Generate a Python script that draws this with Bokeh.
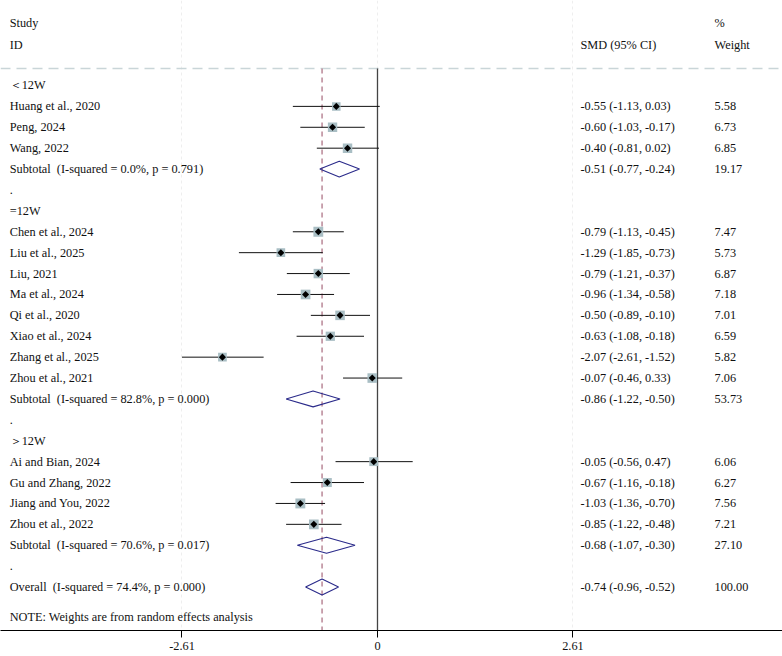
import math
from bokeh.plotting import figure
from bokeh.models import Range1d, FixedTicker, ColumnDataSource
from bokeh.core.properties import value
from bokeh.embed import file_html
from bokeh.resources import INLINE

# ---------------- data ----------------
study_labels = ["Huang et al., 2020", "Peng, 2024", "Wang, 2022",
                "Chen et al., 2024", "Liu et al., 2025", "Liu, 2021", "Ma et al., 2024",
                "Qi et al., 2020", "Xiao et al., 2024", "Zhang et al., 2025", "Zhou et al., 2021",
                "Ai and Bian, 2024", "Gu and Zhang, 2022", "Jiang and You, 2022", "Zhou et al., 2022"]
study_group = [0, 0, 0, 1, 1, 1, 1, 1, 1, 1, 1, 2, 2, 2, 2]
study_smd = [-0.55, -0.60, -0.40, -0.79, -1.29, -0.79, -0.96, -0.50, -0.63, -2.07, -0.07, -0.05, -0.67, -1.03, -0.85]
study_lo = [-1.13, -1.03, -0.81, -1.13, -1.85, -1.21, -1.34, -0.89, -1.08, -2.61, -0.46, -0.56, -1.16, -1.36, -1.22]
study_hi = [0.03, -0.17, 0.02, -0.45, -0.73, -0.37, -0.58, -0.10, -0.18, -1.52, 0.33, 0.47, -0.18, -0.70, -0.48]
study_w = [5.58, 6.73, 6.85, 7.47, 5.73, 6.87, 7.18, 7.01, 6.59, 5.82, 7.06, 6.06, 6.27, 7.56, 7.21]

group_labels = ["＜12W", "=12W", "＞12W"]
sub_i2 = ["0.0%", "82.8%", "70.6%"]
sub_p = ["0.791", "0.000", "0.017"]
sub_smd = [-0.51, -0.86, -0.68]
sub_lo = [-0.77, -1.22, -1.07]
sub_hi = [-0.24, -0.50, -0.30]
sub_w = [19.17, 53.73, 27.10]

overall_smd = -0.74
overall_lo = -0.96
overall_hi = -0.52
overall_w = 100.00
overall_i2 = "74.4%"
overall_p = "0.000"

axis_ticks = [-2.61, 0, 2.61]
tick_labels = ["-2.61", "0", "2.61"]

# ---------------- layout ----------------
X_LEFT = -4.91
X_SMD = 2.71
X_W = 4.50
Y_STUDY = -2.97
Y_ID = -1.96
Y_SEP = -0.81
Y_BOTTOM = 26.08

FONT = value("Liberation Serif")
FS = "12.3px"
TXT = "#111111"

p = figure(width=782, height=656,
           x_range=Range1d(-5.033, 5.407), y_range=Range1d(Y_BOTTOM, -4.067),
           output_backend="svg", toolbar_location=None,
           min_border_left=0, min_border_right=0, min_border_top=0, min_border_bottom=26,
           y_axis_location=None)
p.outline_line_color = None
p.background_fill_color = "white"
p.border_fill_color = "white"
p.ygrid.grid_line_color = None
p.xgrid.ticker = FixedTicker(ticks=axis_ticks)
p.xgrid.grid_line_color = "#eeeeee"
p.xgrid.grid_line_dash = "3 3"

ax = p.xaxis[0]
ax.ticker = FixedTicker(ticks=axis_ticks)
ax.major_label_overrides = {t: l for t, l in zip(axis_ticks, tick_labels)}
ax.major_tick_out = 7
ax.major_tick_in = 0
ax.minor_tick_out = 0
ax.minor_tick_in = 0
ax.axis_line_color = "black"
ax.major_tick_line_color = "black"
ax.major_label_text_font = "Liberation Serif"
ax.major_label_text_font_size = FS
ax.major_label_text_color = TXT
ax.major_label_standoff = 4

# row assembly
rows_y, rows_lab, rows_ci = [], [], []
st_y = [0.0] * len(study_labels)
sub_y = []
k = 0
for g, glab in enumerate(group_labels):
    rows_y.append(k); rows_lab.append(glab); k += 1
    for i in range(len(study_labels)):
        if study_group[i] == g:
            st_y[i] = k
            rows_y.append(k); rows_lab.append(study_labels[i])
            rows_ci.append((k, f"{study_smd[i]:.2f} ({study_lo[i]:.2f}, {study_hi[i]:.2f})", f"{study_w[i]:.2f}"))
            k += 1
    sub_y.append(k)
    rows_y.append(k); rows_lab.append(f"Subtotal\u00a0 (I-squared = {sub_i2[g]}, p = {sub_p[g]})")
    rows_ci.append((k, f"{sub_smd[g]:.2f} ({sub_lo[g]:.2f}, {sub_hi[g]:.2f})", f"{sub_w[g]:.2f}"))
    k += 1
    rows_y.append(k); rows_lab.append("."); k += 1
ov_y = k
rows_y.append(k); rows_lab.append(f"Overall\u00a0 (I-squared = {overall_i2}, p = {overall_p})")
rows_ci.append((k, f"{overall_smd:.2f} ({overall_lo:.2f}, {overall_hi:.2f})", f"{overall_w:.2f}"))
note_y = k + 1.45

# header separator
p.segment(x0=[-5.033], x1=[5.407], y0=[Y_SEP], y1=[Y_SEP],
          line_color="#c9d5d8", line_width=1.5, line_dash="10 6")

# null line and overall line
p.segment(x0=[0], x1=[0], y0=[Y_SEP], y1=[Y_BOTTOM], line_color="#444444", line_width=1.3)
p.segment(x0=[overall_smd], x1=[overall_smd], y0=[Y_SEP], y1=[Y_BOTTOM],
          line_color="#b98797", line_width=1.5, line_dash="5 4")

# study CIs, boxes and point estimates
src = ColumnDataSource(dict(y=st_y, smd=study_smd, lo=study_lo, hi=study_hi,
                            size=[3.6 * math.sqrt(w) for w in study_w]))
p.segment(x0="lo", x1="hi", y0="y", y1="y", source=src, line_color="#111111", line_width=1)
p.scatter(x="smd", y="y", size="size", marker="square", source=src,
          fill_color="#a9bec4", line_color=None)
p.scatter(x="smd", y="y", size=5, marker="square", angle=math.pi / 4, source=src,
          fill_color="black", line_color=None)

# subtotal + overall diamonds
dh = 0.38
xs, ys = [], []
for g in range(len(group_labels)):
    xs.append([sub_lo[g], sub_smd[g], sub_hi[g], sub_smd[g]])
    ys.append([sub_y[g], sub_y[g] - dh, sub_y[g], sub_y[g] + dh])
xs.append([overall_lo, overall_smd, overall_hi, overall_smd])
ys.append([ov_y, ov_y - dh, ov_y, ov_y + dh])
p.patches(xs=xs, ys=ys, fill_color=None, line_color="#2a2a8a", line_width=1.1)

# texts
def txt(x, y, s):
    p.text(x=x, y=y, text=s, text_font=FONT, text_font_size=FS, text_color=TXT,
           text_baseline="middle", text_align="left")

txt([X_LEFT], [Y_STUDY], ["Study"])
txt([X_LEFT], [Y_ID], ["ID"])
txt([X_SMD], [Y_ID], ["SMD (95% CI)"])
txt([X_W], [Y_STUDY], ["%"])
txt([X_W], [Y_ID], ["Weight"])
txt([X_LEFT] * len(rows_y), rows_y, rows_lab)
txt([X_SMD] * len(rows_ci), [r[0] for r in rows_ci], [r[1] for r in rows_ci])
txt([X_W] * len(rows_ci), [r[0] for r in rows_ci], [r[2] for r in rows_ci])
txt([X_LEFT], [note_y], ["NOTE: Weights are from random effects analysis"])

open("out.html", "w").write(file_html(p, INLINE))
